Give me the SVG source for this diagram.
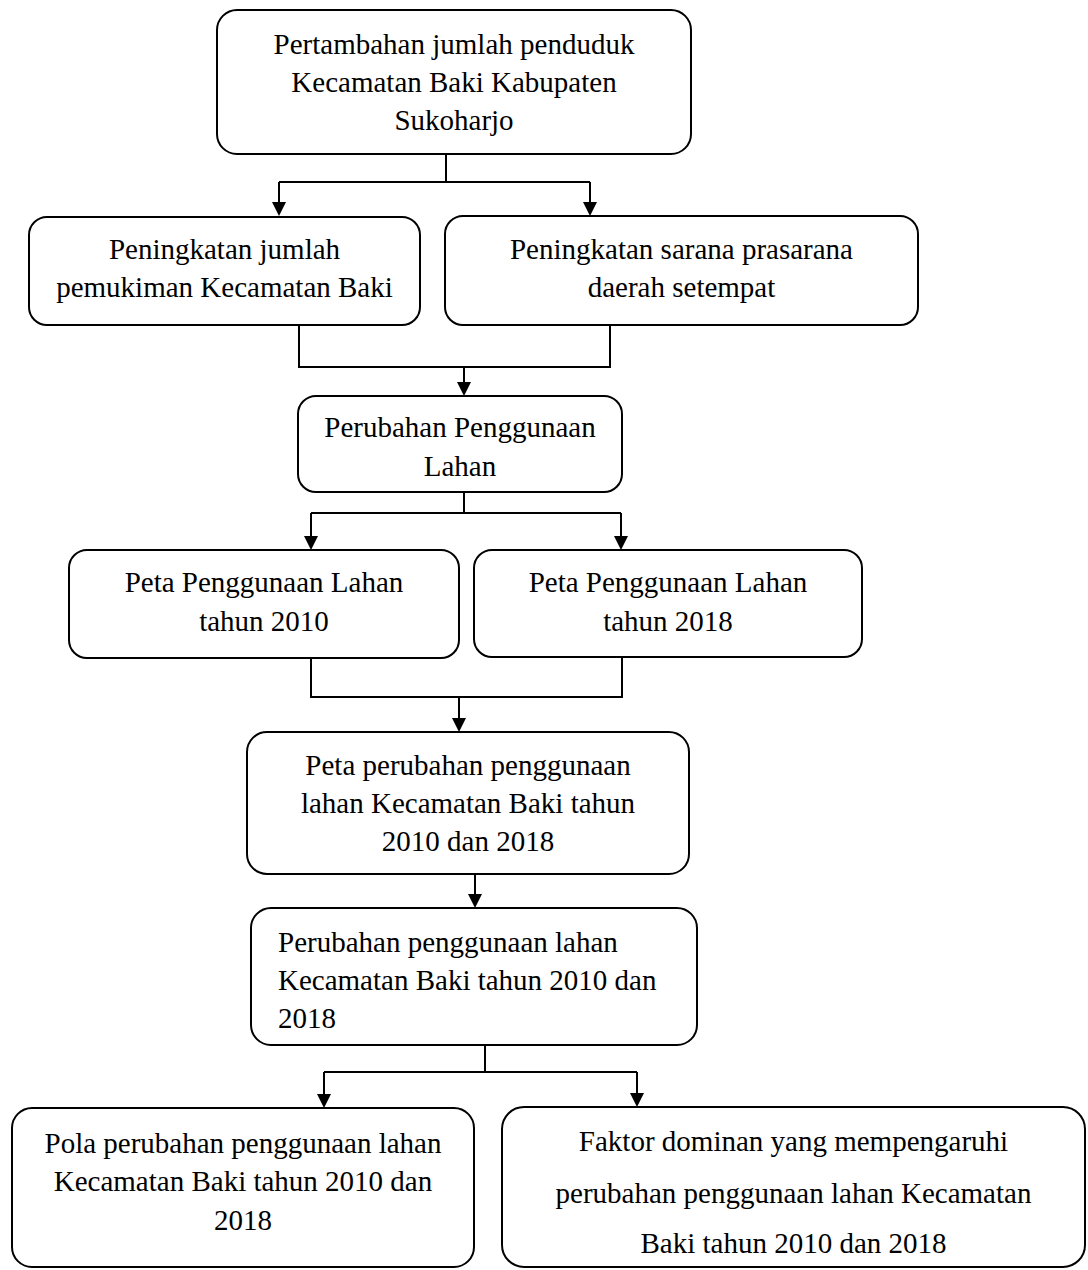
<svg xmlns="http://www.w3.org/2000/svg" width="1088" height="1270" viewBox="0 0 1088 1270">
  <defs>
    <marker id="arr" markerUnits="userSpaceOnUse" markerWidth="14" markerHeight="14" refX="12" refY="7" orient="auto">
      <path d="M0,0 L14,7 L0,14 z" fill="#000"/>
    </marker>
    <style>
      .box { fill: #fff; stroke: #000; stroke-width: 2; }
      .t { font-family: "Liberation Serif", "Times New Roman", serif; font-size: 29px; fill: #000; text-anchor: middle; }
      .tl { text-anchor: start; }
      .ln { fill: none; stroke: #000; stroke-width: 2; }
      .ar { fill: none; stroke: #000; stroke-width: 2; marker-end: url(#arr); }
    </style>
  </defs>
  <rect width="1088" height="1270" fill="#fff"/>

  <g id="connectors">
    <path class="ln" d="M446,154 V182 M279,182 H590"/>
    <path class="ar" d="M279,182 V214"/>
    <path class="ar" d="M590,182 V214"/>

    <path class="ln" d="M299,325 V367 H610 V325"/>
    <path class="ar" d="M464,367 V394"/>

    <path class="ln" d="M464,492 V513 M311,513 H621"/>
    <path class="ar" d="M311,513 V548"/>
    <path class="ar" d="M621,513 V548"/>

    <path class="ln" d="M311,658 V697 H622 V657"/>
    <path class="ar" d="M459,697 V730"/>

    <path class="ar" d="M475,874 V906"/>

    <path class="ln" d="M485,1045 V1072 M324,1072 H637"/>
    <path class="ar" d="M324,1072 V1106"/>
    <path class="ar" d="M637,1072 V1105"/>
  </g>

  <g id="n1">
    <rect class="box" x="217" y="10" width="474" height="144" rx="20"/>
    <text class="t" x="454" y="54">Pertambahan jumlah penduduk</text>
    <text class="t" x="454" y="92">Kecamatan Baki Kabupaten</text>
    <text class="t" x="454" y="130">Sukoharjo</text>
  </g>

  <g id="n2">
    <rect class="box" x="29" y="217" width="391" height="108" rx="18"/>
    <text class="t" x="224.5" y="259">Peningkatan jumlah</text>
    <text class="t" x="224.5" y="297">pemukiman Kecamatan Baki</text>
  </g>

  <g id="n3">
    <rect class="box" x="445" y="216" width="473" height="109" rx="18"/>
    <text class="t" x="681.5" y="259">Peningkatan sarana prasarana</text>
    <text class="t" x="681.5" y="297">daerah setempat</text>
  </g>

  <g id="n4">
    <rect class="box" x="298" y="396" width="324" height="96" rx="18"/>
    <text class="t" x="460" y="437">Perubahan Penggunaan</text>
    <text class="t" x="460" y="476">Lahan</text>
  </g>

  <g id="n5">
    <rect class="box" x="69" y="550" width="390" height="108" rx="18"/>
    <text class="t" x="264" y="592">Peta Penggunaan Lahan</text>
    <text class="t" x="264" y="631">tahun 2010</text>
  </g>

  <g id="n6">
    <rect class="box" x="474" y="550" width="388" height="107" rx="18"/>
    <text class="t" x="668" y="592">Peta Penggunaan Lahan</text>
    <text class="t" x="668" y="631">tahun 2018</text>
  </g>

  <g id="n7">
    <rect class="box" x="247" y="732" width="442" height="142" rx="20"/>
    <text class="t" x="468" y="775">Peta perubahan penggunaan</text>
    <text class="t" x="468" y="813">lahan Kecamatan Baki tahun</text>
    <text class="t" x="468" y="851">2010 dan 2018</text>
  </g>

  <g id="n8">
    <rect class="box" x="251" y="908" width="446" height="137" rx="20"/>
    <text class="t tl" x="278" y="952">Perubahan penggunaan lahan</text>
    <text class="t tl" x="278" y="990">Kecamatan Baki tahun 2010 dan</text>
    <text class="t tl" x="278" y="1028">2018</text>
  </g>

  <g id="n9">
    <rect class="box" x="12" y="1108" width="462" height="159" rx="20"/>
    <text class="t" x="243" y="1153">Pola perubahan penggunaan lahan</text>
    <text class="t" x="243" y="1191">Kecamatan Baki tahun 2010 dan</text>
    <text class="t" x="243" y="1230">2018</text>
  </g>

  <g id="n10">
    <rect class="box" x="502" y="1107" width="583" height="160" rx="22"/>
    <text class="t" x="793.5" y="1151">Faktor dominan yang mempengaruhi</text>
    <text class="t" x="793.5" y="1203">perubahan penggunaan lahan Kecamatan</text>
    <text class="t" x="793.5" y="1253">Baki tahun 2010 dan 2018</text>
  </g>
</svg>
